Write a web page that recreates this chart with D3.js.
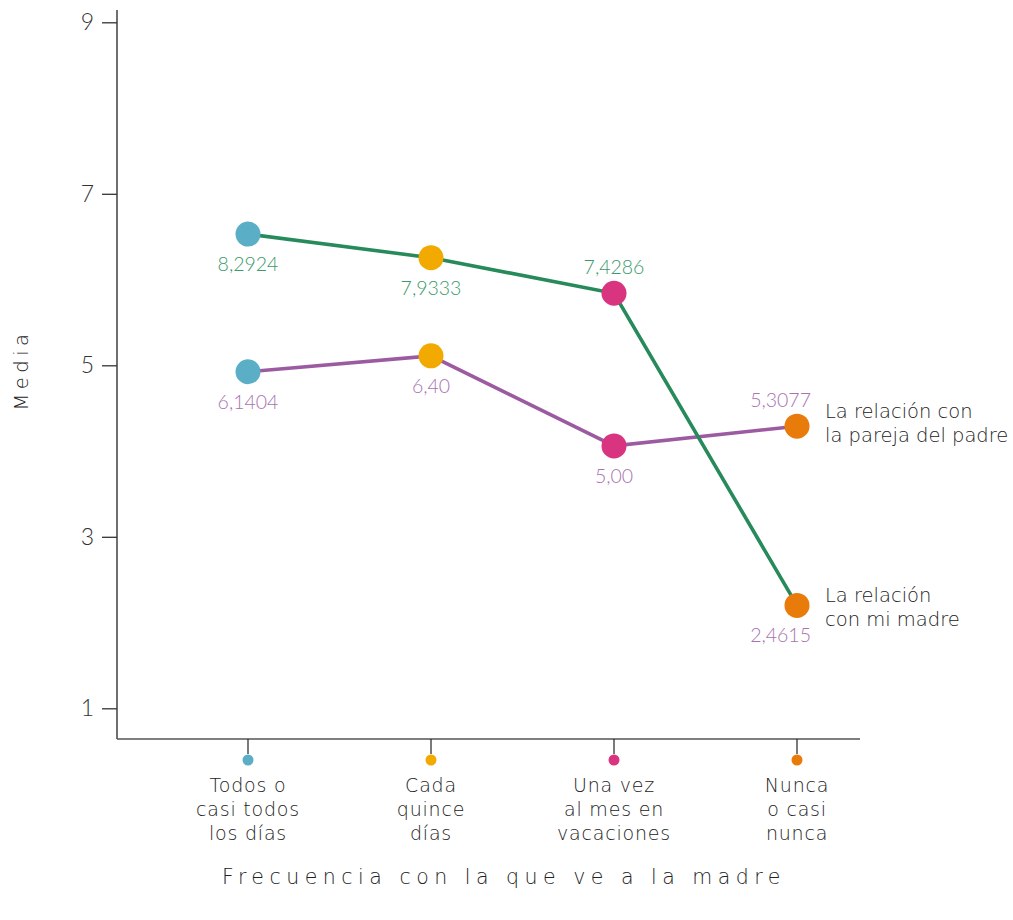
<!DOCTYPE html>
<html>
<head>
<meta charset="utf-8">
<script src="https://cdn.jsdelivr.net/npm/d3@7"></script>
<style>
  html, body { margin: 0; padding: 0; background: #ffffff; }
  svg { display: block; font-family: Lato, "Open Sans", sans-serif; font-weight: 300; }
  .word { font-family: "DejaVu Sans", sans-serif; font-weight: 200; }
</style>
</head>
<body>
<svg id="chart" width="1013" height="920"></svg>
<script>
// ---- data ----
const categories = [
  ["Todos o", "casi todos", "los días"],
  ["Cada", "quince", "días"],
  ["Una vez", "al mes en", "vacaciones"],
  ["Nunca", "o casi", "nunca"]
];
const pointColors = ["#5aafc7", "#f2a900", "#d8347f", "#e97b0a"];

// plotted positions on the "Media" axis
const madreValues  = [6.53, 6.255, 5.84, 2.20];
const parejaValues = [4.925, 5.11, 4.06, 4.29];

// printed value labels
const madreLabels  = ["8,2924", "7,9333", "7,4286", "2,4615"];
const parejaLabels = ["6,1404", "6,40", "5,00", "5,3077"];

const yTicks = [1, 3, 5, 7, 9];

const seriesNames = {
  madre: ["La relación", "con mi madre"],
  pareja: ["La relación con", "la pareja del padre"]
};

// ---- drawing ----
const svg = d3.select("#chart");
const green = "#278a5b", purple = "#9c5ba1";
const greenText = "#3a9a6a", purpleText = "#a873b0";

const x = d3.scalePoint().domain(d3.range(categories.length)).range([248, 797]);
const y = d3.scaleLinear().domain([1, 9]).range([708.3, 22.3]);

// axes
const axisLeftX = 117, axisBottomY = 739;
svg.append("line").attr("x1", axisLeftX).attr("x2", axisLeftX)
  .attr("y1", 10).attr("y2", axisBottomY)
  .attr("stroke", "#222").attr("stroke-width", 1.3);
svg.append("line").attr("x1", axisLeftX).attr("x2", 860)
  .attr("y1", axisBottomY).attr("y2", axisBottomY)
  .attr("stroke", "#555").attr("stroke-width", 1.3);

const yAxis = d3.axisLeft(y).tickValues(yTicks).tickSize(15).tickPadding(8).tickFormat(d3.format("d"));
const gy = svg.append("g").attr("transform", `translate(${axisLeftX},0)`).call(yAxis);
gy.select(".domain").remove();
gy.selectAll(".tick line").attr("stroke", "#333").attr("stroke-width", 1.3);
gy.selectAll(".tick text").attr("font-size", 23).attr("fill", "#333")
  .attr("font-family", "Lato, sans-serif").attr("font-weight", 300);

// x ticks with colored dots
const xt = svg.append("g").selectAll("g").data(categories).join("g")
  .attr("transform", (d, i) => `translate(${x(i)},${axisBottomY})`);
xt.append("line").attr("y1", 0).attr("y2", 15).attr("stroke", "#222").attr("stroke-width", 1.2);
xt.append("circle").attr("cy", 21).attr("r", 5.5).attr("fill", (d, i) => pointColors[i]);
xt.append("text").attr("class", "word").attr("text-anchor", "middle").attr("font-size", 19)
  .attr("letter-spacing", 0.8).attr("fill", "#222")
  .selectAll("tspan").data(d => d).join("tspan")
  .attr("x", 0).attr("y", (d, j) => 53 + j * 24).text(d => d);

// axis titles
svg.append("text").attr("class", "word").attr("transform", "translate(28,370) rotate(-90)")
  .attr("text-anchor", "middle").attr("font-size", 19.5).attr("letter-spacing", 4.5)
  .attr("fill", "#222").text("Media");
svg.append("text").attr("class", "word").attr("x", 504).attr("y", 884).attr("text-anchor", "middle")
  .attr("font-size", 20.5).attr("letter-spacing", 5.5).attr("fill", "#222")
  .text("Frecuencia con la que ve a la madre");

// lines
const line = d3.line().x((d, i) => x(i)).y(d => y(d));
svg.append("path").datum(parejaValues).attr("d", line)
  .attr("fill", "none").attr("stroke", purple).attr("stroke-width", 3.6);
svg.append("path").datum(madreValues).attr("d", line)
  .attr("fill", "none").attr("stroke", green).attr("stroke-width", 3.6);

// points
function points(vals) {
  svg.append("g").selectAll("circle").data(vals).join("circle")
    .attr("cx", (d, i) => x(i)).attr("cy", d => y(d)).attr("r", 12.5)
    .attr("fill", (d, i) => pointColors[i]);
}
points(parejaValues);
points(madreValues);

// value labels
const madrePlace = ["below", "below", "above", "below"];
const parejaPlace = ["below", "below", "below", "above"];
const madreLabelColors = [greenText, greenText, greenText, purpleText];
function labels(vals, texts, place, colors) {
  svg.append("g").selectAll("text").data(vals).join("text")
    .attr("x", (d, i) => i === vals.length - 1 ? x(i) + 14 : x(i))
    .attr("y", (d, i) => y(d) + (place[i] === "below" ? 37 : -19))
    .attr("text-anchor", (d, i) => i === vals.length - 1 ? "end" : "middle")
    .attr("font-size", 19.5)
    .attr("fill", (d, i) => colors[i])
    .text((d, i) => texts[i]);
}
labels(madreValues, madreLabels, madrePlace, madreLabelColors);
labels(parejaValues, parejaLabels, parejaPlace, parejaValues.map(() => purpleText));

// series names
function seriesName(lines, v, off) {
  svg.append("text").attr("class", "word").attr("font-size", 19.5).attr("fill", "#222")
    .selectAll("tspan").data(lines).join("tspan")
    .attr("x", 825).attr("y", (d, j) => y(v) + off + j * 24).text(d => d);
}
seriesName(seriesNames.pareja, parejaValues[3], -8);
seriesName(seriesNames.madre, madreValues[3], -3);
</script>
</body>
</html>
